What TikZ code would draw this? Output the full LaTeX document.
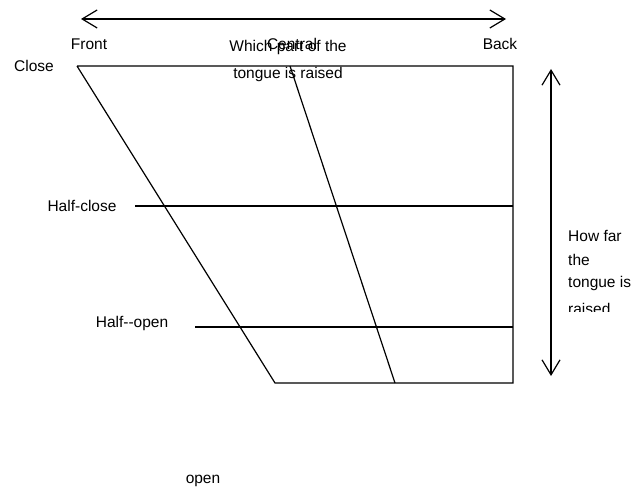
\documentclass[tikz,border=0pt]{standalone}
\usepackage{fontspec}
\setmainfont{Liberation Sans}
\usetikzlibrary{arrows.meta}
\begin{document}
\begin{tikzpicture}[x=1pt,y=-1pt,
  ln/.style={line width=1.2pt},
  tip/.style={Straight Barb[length=15pt,width=18pt,line width=1.2pt]},
  dbl/.style={line width=1.2pt,{Straight Barb[length=15pt,width=18pt,line width=1.2pt]}-{Straight Barb[length=15pt,width=18pt,line width=1.2pt]}},
  lbl/.style={font=\fontsize{15.5}{18}\selectfont,inner sep=0pt},
  lblw/.style={lbl,anchor=west}]
\useasboundingbox (0,0) rectangle (634,492);
% corner coordinates
\coordinate (TL) at (77,66);
\coordinate (TR) at (513,66);
\coordinate (BL) at (275,383);
\coordinate (BR) at (513,383);
\coordinate (CT) at (290,66);
\coordinate (CB) at (395,383);
\coordinate (HCL) at (135,206);
\coordinate (HCR) at (513,206);
\coordinate (HOL) at (195,327);
\coordinate (HOR) at (513,327);
\coordinate (AL) at (81,19);
\coordinate (AR) at (506,19);
\coordinate (VT) at (551,69);
\coordinate (VB) at (551,376);
% frame
\draw[ln] (TL) -- (TR) -- (BR) -- (BL) -- (TL);
\draw[ln] (CT) -- (CB);
\draw[ln] (HCL) -- (HCR);
\draw[ln] (HOL) -- (HOR);
% arrows
\draw[dbl] (AL) -- (AR);
\draw[dbl] (VT) -- (VB);
% labels
\node[lbl] (front) at (89,44) {Front};
\node[lbl] (central) at (292,44) {Central};
\node[lbl] (back) at (500,44) {Back};
\node[lbl] (which1) at (288,47) {Which part of the};
\node[lbl] (which2) at (288,74) {tongue is raised};
\node[lbl] (close) at (34,66) {Close};
\node[lbl] (hclose) at (82,206) {Half-close};
\node[lbl] (hopen) at (132,323) {Half-{}-open};
\node[lbl] (open) at (203,481) {open};
\node[lblw] (how1) at (568,236) {How far};
\node[lblw] (how2) at (568,260) {the};
\node[lblw] (how3) at (568,283) {tongue is};
\begin{scope}
\clip (560,295) rectangle (634,311.5);
\node[lbl,anchor=base west] (how4) at (568,314) {raised};
\end{scope}
\end{tikzpicture}
\end{document}
